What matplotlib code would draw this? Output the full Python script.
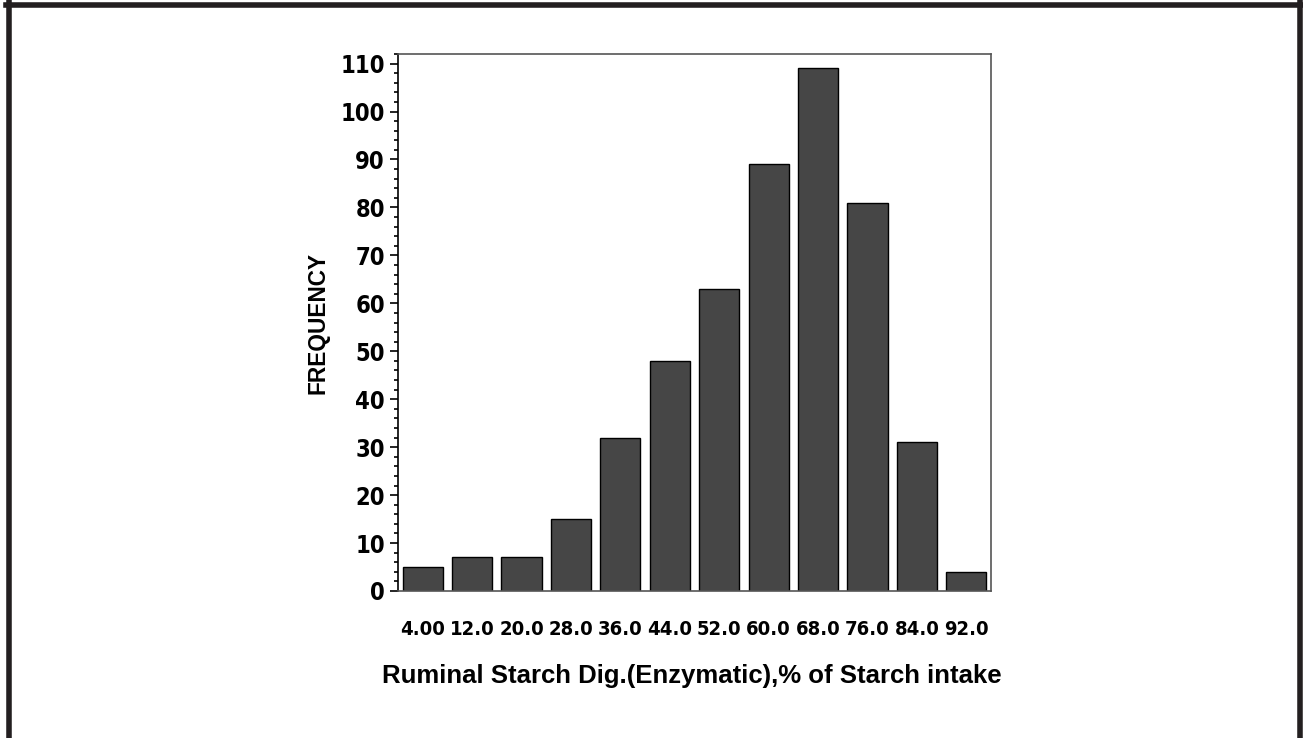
import matplotlib.pyplot as plt
from matplotlib.lines import Line2D
from matplotlib.ticker import MultipleLocator

# histogram bins (midpoints) and counts
midpoints = [4.0, 12.0, 20.0, 28.0, 36.0, 44.0, 52.0, 60.0, 68.0, 76.0, 84.0, 92.0]
tick_labels = ["4.00", "12.0", "20.0", "28.0", "36.0", "44.0",
               "52.0", "60.0", "68.0", "76.0", "84.0", "92.0"]
counts = [5, 7, 7, 15, 32, 48, 63, 89, 109, 81, 31, 4]

narrow = dict(family="DejaVu Sans", stretch="condensed", weight="bold")
plain = dict(family=["Liberation Sans", "DejaVu Sans"], weight="bold")

fig = plt.figure(figsize=(13.03, 7.38), dpi=100)
ax = fig.add_axes([398 / 1303, 1 - 591 / 738, (991 - 398) / 1303, (591 - 54) / 738])

ax.bar(midpoints, counts, width=6.5, color="#464646", edgecolor="black",
       linewidth=1.0, zorder=2)

ax.set_xlim(0, 96)
ax.set_ylim(0, 112)
ax.set_xticks(midpoints)
ax.set_xticklabels(tick_labels, fontsize=14.5, **narrow)
ax.tick_params(axis="x", length=0, pad=21)

ax.yaxis.set_major_locator(MultipleLocator(10))
ax.yaxis.set_minor_locator(MultipleLocator(2))
ax.tick_params(axis="y", which="major", length=6, width=1.2, direction="out")
ax.tick_params(axis="y", which="minor", length=3, width=1.2, direction="out")
ax.set_yticks(ax.get_yticks())
ax.set_yticklabels([f"{int(v)}" for v in ax.get_yticks()], fontsize=17, **narrow)
ax.set_ylim(0, 112)

for side in ["top", "right", "bottom"]:
    ax.spines[side].set_color("#555555")
    ax.spines[side].set_linewidth(1.2)
ax.spines["left"].set_color("black")
ax.spines["left"].set_linewidth(1.2)

ax.set_ylabel("FREQUENCY", fontsize=16.3, labelpad=7.5, **plain)
fig.text(692 / 1303, 1 - 676 / 738,
         "Ruminal Starch Dig.(Enzymatic),% of Starch intake",
         fontsize=18.5, ha="center", va="center", **plain)

# page frame around the figure (open at the bottom)
frame = "#231f20"
fig.add_artist(Line2D([8.5 / 1303, 8.5 / 1303], [0, 1 - 2 / 738], color=frame,
                      linewidth=4, transform=fig.transFigure))
fig.add_artist(Line2D([1299.5 / 1303, 1299.5 / 1303], [0, 1 - 2 / 738], color=frame,
                      linewidth=4, transform=fig.transFigure))
fig.add_artist(Line2D([6 / 1303, 1303 / 1303], [1 - 4.5 / 738, 1 - 4.5 / 738],
                      color=frame, linewidth=4, transform=fig.transFigure))

fig.savefig("out.png", dpi=100)
